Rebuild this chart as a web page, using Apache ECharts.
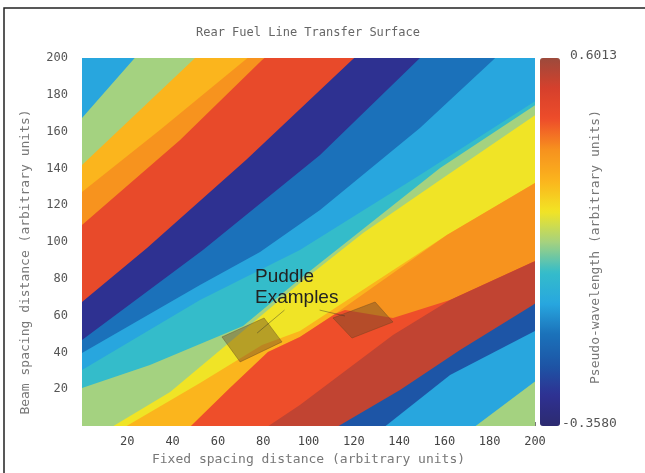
<!DOCTYPE html>
<html>
<head>
<meta charset="utf-8">
<script src="https://cdn.jsdelivr.net/npm/echarts@6/dist/echarts.min.js"></script>
<style>
  html, body { margin: 0; padding: 0; background: #fff; }
  #chart { width: 645px; height: 473px; }
</style>
</head>
<body>
<div id="chart"></div>
<script>
// axis ticks shown on both axes (0 is not labelled)
const axisTicks = [20, 40, 60, 80, 100, 120, 140, 160, 180, 200]
const colorbarRange = [-0.358, 0.6013]
const colorbarText = ['0.6013', '-0.3580']

// value of each band, painted from the top-left corner to the bottom-right
const bandValues = [-0.04, 0.12, 0.28, 0.36, 0.46, -0.28, -0.12, -0.04, 0.04,
  0.12, 0.20, 0.28, 0.36, 0.44, 0.55, -0.20, -0.04, 0.12]

// upper-left edge of each band (x, y in axis units), lower-left end first
const bandEdges = [
  [[-10, 210]],
  [[-5.3, 159.8], [0, 167.4], [22.5, 198.9], [25.6, 203.3]],
  [[-5.3, 135.9], [0, 141.9], [49.0, 198.9], [52.1, 202.7]],
  [[-5.3, 121.2], [0, 127.2], [34.4, 160.9], [72.0, 198.9], [76.4, 203.3]],
  [[-5.3, 103.8], [0, 109.2], [43.3, 155.4], [79.5, 198.9], [83.9, 203.3]],
  [[-5.3, 61.4], [0, 67.4], [28.7, 96.7], [72.4, 144.6], [119.2, 198.9], [123.6, 203.8]],
  [[-5.3, 42.4], [0, 46.7], [53.4, 95.7], [105.1, 147.3], [148.3, 198.9], [152.8, 204.4]],
  [[-5.3, 35.9], [0, 39.7], [52.1, 76.6], [78.6, 94.6], [105.1, 117.4], [149.2, 162.0], [181.5, 198.9], [185.9, 204.4]],
  [[-5.3, 26.1], [0, 30.4], [52.1, 68.5], [96.2, 95.7], [149.2, 136.4], [202.2, 178.3]],
  [[-9.7, 14.1], [0, 20.7], [30.0, 33.2], [71.1, 54.4], [96.2, 79.9], [124.1, 107.1], [158.1, 140.2], [202.2, 176.1]],
  [[7.9, -7.6], [13.2, -0.5], [38.9, 18.5], [71.1, 51.6], [96.2, 77.7], [124.1, 104.9], [158.1, 133.7], [202.2, 170.7]],
  [[12.4, -7.6], [19.0, -0.5], [52.1, 23.4], [79.5, 44.0], [96.2, 51.6], [161.1, 103.8], [202.2, 133.7]],
  [[43.3, -7.6], [47.7, -0.5], [65.3, 20.7], [82.1, 40.2], [96.2, 48.4], [111.7, 60.9], [116.1, 64.7], [161.1, 103.8], [202.2, 133.7]],
  [[43.3, -7.6], [47.7, -0.5], [65.3, 20.7], [82.1, 40.2], [96.2, 48.4], [111.7, 60.9], [116.1, 63.0], [137.3, 58.7], [162.5, 68.5], [199.1, 89.1], [204.4, 91.9]],
  [[76.4, -7.6], [81.7, -0.5], [96.2, 11.4], [137.3, 49.5], [162.5, 68.5], [199.1, 89.1], [204.4, 91.9]],
  [[105.1, -7.6], [112.6, -0.5], [140.4, 19.6], [166.9, 41.3], [199.1, 65.8], [204.4, 70.1]],
  [[127.2, -7.6], [132.9, -1.1], [162.5, 27.7], [199.1, 51.1], [204.4, 54.4]],
  [[166.9, -7.6], [172.6, -1.1], [199.1, 23.4], [204.4, 28.3]]
]

// the two puddles marked on the surface
const puddles = [
  [[61.8, 48.4], [80.4, 58.7], [88.3, 45.7], [69.8, 34.8]],
  [[110.8, 58.7], [129.4, 67.4], [137.3, 56.5], [119.2, 47.8]]
]
const pointerLines = [
  [[89.4, 63.0], [77.3, 50.5]],
  [[104.9, 63.0], [116.1, 59.8]]
]

const jet = ['#2d2a70', '#2e3192', '#1d56a6', '#1b72ba', '#28a7df', '#34bcca', '#a6d27e',
  '#f2e424', '#fbb41d', '#f7921e', '#ee4d2a', '#d6402c', '#9c4a3c']

const FAR_RIGHT = 300
const FAR_BOTTOM = -100
const mono = '"DejaVu Sans Mono", monospace'

function clipRect(params) {
  const cs = params.coordSys
  return { type: 'rect', shape: { x: cs.x, y: cs.y, width: cs.width, height: cs.height } }
}

function renderBand(params, api) {
  const edge = bandEdges[api.value(0)]
  const first = edge[0]
  const last = edge[edge.length - 1]
  const ring = edge.concat([[FAR_RIGHT, last[1]], [FAR_RIGHT, FAR_BOTTOM], [first[0], FAR_BOTTOM]])
  return {
    type: 'polygon',
    shape: { points: ring.map(p => api.coord(p)) },
    style: { fill: api.visual('color') },
    clipPath: clipRect(params)
  }
}

function renderPuddle(params, api) {
  const pts = puddles[api.value(0)]
  return {
    type: 'polygon',
    shape: { points: pts.map(p => api.coord(p)) },
    style: { fill: 'rgba(110,75,40,0.45)', stroke: 'rgba(90,60,30,0.35)', lineWidth: 1 }
  }
}

function renderPointer(params, api) {
  const pts = pointerLines[api.value(0)]
  return {
    type: 'polyline',
    shape: { points: pts.map(p => api.coord(p)) },
    style: { stroke: 'rgba(40,40,40,0.5)', lineWidth: 0.8, fill: null }
  }
}

const chart = echarts.init(document.getElementById('chart'))
chart.setOption({
  backgroundColor: '#fff',
  animation: false,
  title: {
    text: 'Rear Fuel Line Transfer Surface',
    left: 196,
    top: 27,
    padding: 0,
    textStyle: { fontFamily: mono, fontSize: 12, fontWeight: 'normal', color: '#666' }
  },
  grid: { left: 82, top: 58, width: 453, height: 368 },
  xAxis: {
    type: 'value',
    min: 0,
    max: 200,
    interval: 20,
    name: 'Fixed spacing distance (arbitrary units)',
    nameLocation: 'middle',
    nameGap: 22,
    nameTextStyle: { fontFamily: mono, fontSize: 13, color: '#777' },
    axisLine: { show: false },
    axisTick: { show: true, inside: true, length: 4, lineStyle: { color: '#777' } },
    splitLine: { show: false },
    axisLabel: {
      margin: 10,
      fontFamily: mono,
      fontSize: 12,
      color: '#444',
      formatter: v => axisTicks.includes(v) ? String(v) : ''
    }
  },
  yAxis: {
    type: 'value',
    min: 0,
    max: 200,
    interval: 20,
    name: 'Beam spacing distance (arbitrary units)',
    nameLocation: 'middle',
    nameGap: 50,
    nameTextStyle: { fontFamily: mono, fontSize: 13, color: '#777', padding: [0, 40, 0, 0] },
    axisLine: { show: false },
    axisTick: { show: false },
    splitLine: { show: false },
    axisLabel: {
      margin: 14,
      fontFamily: mono,
      fontSize: 12,
      color: '#555',
      formatter: v => axisTicks.includes(v) ? String(v) : ''
    }
  },
  visualMap: {
    type: 'continuous',
    seriesIndex: 0,
    dimension: 1,
    min: colorbarRange[0],
    max: colorbarRange[1],
    calculable: false,
    hoverLink: false,
    orient: 'vertical',
    left: 540,
    top: 58,
    padding: 0,
    itemWidth: 20,
    itemHeight: 368,
    inRange: { color: jet }
  },
  graphic: [
    {
      type: 'rect',
      silent: true,
      z: 20,
      shape: { x: 4, y: 8, width: 700, height: 520 },
      style: { fill: null, stroke: '#222', lineWidth: 1.5 }
    },
    {
      type: 'text',
      z: 20,
      left: 570,
      top: 49,
      style: { text: colorbarText[0], font: '13px ' + mono, fill: '#555' }
    },
    {
      type: 'text',
      z: 20,
      left: 562,
      top: 417,
      style: { text: colorbarText[1], font: '13px ' + mono, fill: '#555' }
    },
    {
      type: 'text',
      z: 20,
      x: 596,
      y: 247,
      rotation: Math.PI / 2,
      style: {
        text: 'Pseudo-wavelength (arbitrary units)',
        font: '13px ' + mono,
        fill: '#777',
        align: 'center',
        verticalAlign: 'middle'
      }
    },
    {
      type: 'text',
      z: 20,
      left: 255,
      top: 266,
      style: {
        text: 'Puddle\nExamples',
        font: '19px "Liberation Sans", Arial, sans-serif',
        fill: '#222',
        lineHeight: 21
      }
    }
  ],
  series: [
    {
      type: 'custom',
      renderItem: renderBand,
      data: bandValues.map((v, i) => [i, v]),
      silent: true
    },
    {
      type: 'custom',
      renderItem: renderPuddle,
      data: puddles.map((p, i) => [i]),
      silent: true
    },
    {
      type: 'custom',
      renderItem: renderPointer,
      data: pointerLines.map((p, i) => [i]),
      silent: true
    }
  ]
})
</script>
</body>
</html>
